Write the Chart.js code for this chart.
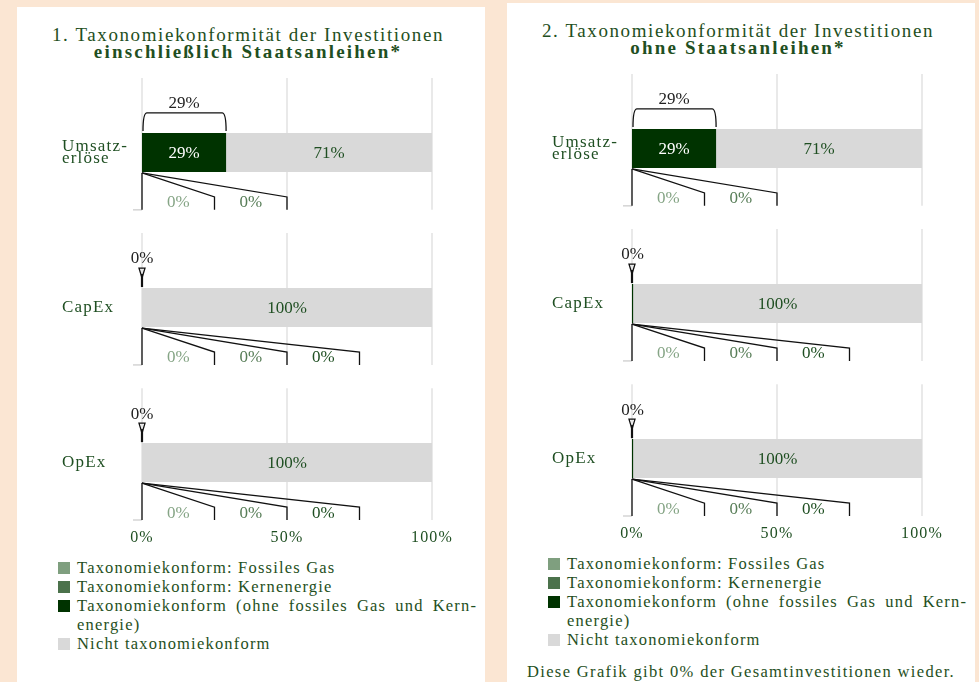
<!DOCTYPE html>
<html>
<head>
<meta charset="utf-8">
<script src="https://cdn.jsdelivr.net/npm/chart.js@4.4.1/dist/chart.umd.min.js"></script>
<style>
  body { margin: 0; width: 979px; height: 682px; background: #fbe6d3; position: relative; overflow: hidden;
         font-family: "Liberation Serif", serif; color: #1f4f22; }
  .panel { position: absolute; width: 468px; height: 700px; background: #fff; }
  .title { position: absolute; left: 0; top: 19px; width: 462px; text-align: center; font-size: 19px; line-height: 17px; letter-spacing: 1.6px; }
  .title b { letter-spacing: 2.2px; }
  .chartBox { position: absolute; left: 45px; top: 63px; width: 397px; height: 480px; }
  .legend { position: absolute; left: 41px; top: 551px; width: 418px; font-size: 16.5px; line-height: 19px; letter-spacing: 1.2px; }
  .li { position: relative; padding-left: 19px; text-align: justify; }
  .sw { position: absolute; left: 0; top: 4px; width: 12px; height: 12px; }
  .note { position: absolute; left: 20px; top: 659px; font-size: 16.5px; white-space: nowrap; letter-spacing: 1.35px; }
</style>
</head>
<body>
<div class="panel" style="left:17px;top:7px">
  <div class="title">1. Taxonomiekonformität der Investitionen<br><b>einschließlich Staatsanleihen*</b></div>
  <div class="chartBox"><canvas id="chart1" width="397" height="480"></canvas></div>
  <div class="legend" id="legend1"></div>
</div>
<div class="panel" style="left:507px;top:3px">
  <div class="title">2. Taxonomiekonformität der Investitionen<br><b>ohne Staatsanleihen*</b></div>
  <div class="chartBox"><canvas id="chart2" width="397" height="480"></canvas></div>
  <div class="legend" id="legend2"></div>
  <div class="note">Diese Grafik gibt 0% der Gesamtinvestitionen wieder.</div>
</div>
<script>
const rowLabels = [['Umsatz-', 'erlöse'], 'CapEx', 'OpEx'];
const xTicks = [0, 50, 100];
const seriesNames = ['Taxonomiekonform: Fossiles Gas', 'Taxonomiekonform: Kernenergie',
  'Taxonomiekonform (ohne fossiles Gas und Kern\u00ADenergie)', 'Nicht taxonomiekonform'];
const seriesColors = ['#7f9f7f', '#4b724b', '#003300', '#d9d9d9'];

// 1. einschliesslich Staatsanleihen
const gas1 = [0, 0, 0];
const kern1 = [0, 0, 0];
const conform1 = [29, 0, 0];
const nicht1 = [71, 100, 100];
// 2. ohne Staatsanleihen (thin sliver visible for CapEx / OpEx)
const gas2 = [0, 0, 0];
const kern2 = [0, 0, 0];
const conform2 = [29, 0.4, 0.4];
const nicht2 = [71, 99.6, 99.6];

// breakdown shown under each bar: gas, kern, rest
const fan1 = [[0, 0], [0, 0, 0], [0, 0, 0]];
const fan2 = [[0, 0], [0, 0, 0], [0, 0, 0]];
const fanColors = ['#86a586', '#577d57', '#1f4f22'];

const textGreen = '#1f4f22';
const serif = '"Liberation Serif", serif';

function line(ctx, x0, y0, x1, y1) {
  ctx.beginPath(); ctx.moveTo(x0, y0); ctx.lineTo(x1, y1); ctx.stroke();
}

const decor = {
  id: 'decor',
  beforeDraw(chart) {
    chart.ctx.letterSpacing = '1.2px'; // wider lettering for the axis labels
  },
  beforeDatasetsDraw(chart) {
    const { ctx, scales: { x, y } } = chart;
    ctx.letterSpacing = '0px';
    ctx.save();
    rowLabels.forEach((_, i) => {
      const top = y.getPixelForValue(i - 0.48), bot = y.getPixelForValue(i + 0.37);
      ctx.strokeStyle = '#e2e2e2'; ctx.lineWidth = 1.5;
      xTicks.forEach(t => { const px = x.getPixelForValue(t); line(ctx, px, top, px, bot); });
      ctx.strokeStyle = '#d4d4d4'; ctx.lineWidth = 1.5;
      line(ctx, x.left - 9, bot, x.left, bot);
    });
    ctx.restore();
  },
  afterDatasetsDraw(chart, args, opts) {
    const { ctx, scales: { x, y } } = chart;
    const ds = chart.data.datasets;
    ctx.save();
    ctx.font = '17px ' + serif;
    ctx.textAlign = 'center';
    ctx.textBaseline = 'middle';
    // values inside bars
    ds.forEach((d, k) => {
      chart.getDatasetMeta(k).data.forEach((bar, j) => {
        const v = d.data[j].x;
        if (v < 1) return;
        ctx.fillStyle = k === 3 ? textGreen : '#fff';
        ctx.fillText(Math.round(v) + '%', (bar.x + bar.base) / 2, bar.y + 1);
      });
    });
    ctx.strokeStyle = '#111';
    ctx.lineWidth = 1.3;
    rowLabels.forEach((_, j) => {
      const cy = y.getPixelForValue(j);
      const barTop = cy - 19.5, barBot = cy + 19.5;
      const total = ds[0].data[j].x + ds[1].data[j].x + ds[2].data[j].x;
      const x0 = x.getPixelForValue(0), x1 = x.getPixelForValue(total);
      // brace above the conform part
      const bt = barTop - 20;
      if (x1 - x0 > 4) {
        ctx.beginPath();
        ctx.moveTo(x0 + 1, barTop - 2);
        ctx.quadraticCurveTo(x0 + 1, bt, x0 + 5, bt);
        ctx.lineTo(x1 - 4, bt);
        ctx.quadraticCurveTo(x1, bt, x1, barTop - 2);
        ctx.stroke();
      } else {
        ctx.beginPath();
        ctx.moveTo(x0 - 3, bt); ctx.lineTo(x0 + 3, bt); ctx.lineTo(x0, bt + 10); ctx.closePath();
        ctx.stroke();
        ctx.lineWidth = 2.2;
        line(ctx, x0, bt + 6, x0, barTop - 1);
        ctx.lineWidth = 1.3;
      }
      ctx.fillStyle = '#222';
      ctx.fillText(Math.round(total) + '%', (x0 + x1) / 2, barTop - 29);
      // fan of the breakdown below
      const rowBot = y.getPixelForValue(j + 0.37);
      const fy = barBot + 25;
      line(ctx, x0, barBot + 1, x0, rowBot);
      opts.fan[j].forEach((v, k) => {
        const ex = x.getPixelForValue(25 * (k + 1));
        ctx.beginPath();
        ctx.moveTo(x0, barBot + 1); ctx.lineTo(ex, fy); ctx.lineTo(ex, rowBot);
        ctx.stroke();
        ctx.fillStyle = fanColors[k];
        ctx.fillText(v + '%', x.getPixelForValue(25 * k + 12.5), barBot + 31);
      });
    });
    ctx.restore();
  }
};

function makeChart(id, sets, fan) {
  return new Chart(document.getElementById(id), {
    type: 'bar',
    data: {
      datasets: sets.map((vals, k) => ({
        label: seriesNames[k],
        data: vals.map((v, i) => ({ x: v, y: i })),
        backgroundColor: seriesColors[k],
        barThickness: 39,
        borderWidth: 0,
        inflateAmount: 0
      }))
    },
    options: {
      indexAxis: 'y',
      responsive: false,
      animation: false,
      layout: { padding: { top: 8, right: 27, left: 0, bottom: 0 } },
      plugins: { legend: { display: false }, tooltip: { enabled: false }, decor: { fan } },
      scales: {
        x: {
          type: 'linear', stacked: true, min: 0, max: 100,
          grid: { display: false, drawTicks: false }, border: { display: false },
          afterBuildTicks: s => { s.ticks = xTicks.map(v => ({ value: v })); },
          ticks: { padding: 8, color: textGreen, font: { family: serif, size: 16 }, callback: v => v + '%' },
          afterFit: s => { s.height = 30; }
        },
        y: {
          type: 'linear', stacked: true, reverse: true, min: -0.48, max: 2.37, offset: false,
          grid: { display: false, drawTicks: false }, border: { display: false },
          afterBuildTicks: s => { s.ticks = rowLabels.map((_, i) => ({ value: i })); },
          ticks: { crossAlign: 'far', padding: 0, color: textGreen, font: { family: serif, size: 17, lineHeight: 0.72 },
                   callback: v => rowLabels[v] },
          afterFit: s => { s.width = 80; }
        }
      }
    },
    plugins: [decor]
  });
}

function makeLegend(id) {
  const el = document.getElementById(id);
  seriesNames.forEach((name, k) => {
    const item = document.createElement('div');
    item.className = 'li';
    item.innerHTML = `<span class="sw" style="background:${seriesColors[k]}"></span>${name}`;
    el.appendChild(item);
  });
}

makeChart('chart1', [gas1, kern1, conform1, nicht1], fan1);
makeChart('chart2', [gas2, kern2, conform2, nicht2], fan2);
makeLegend('legend1');
makeLegend('legend2');
</script>
</body>
</html>
